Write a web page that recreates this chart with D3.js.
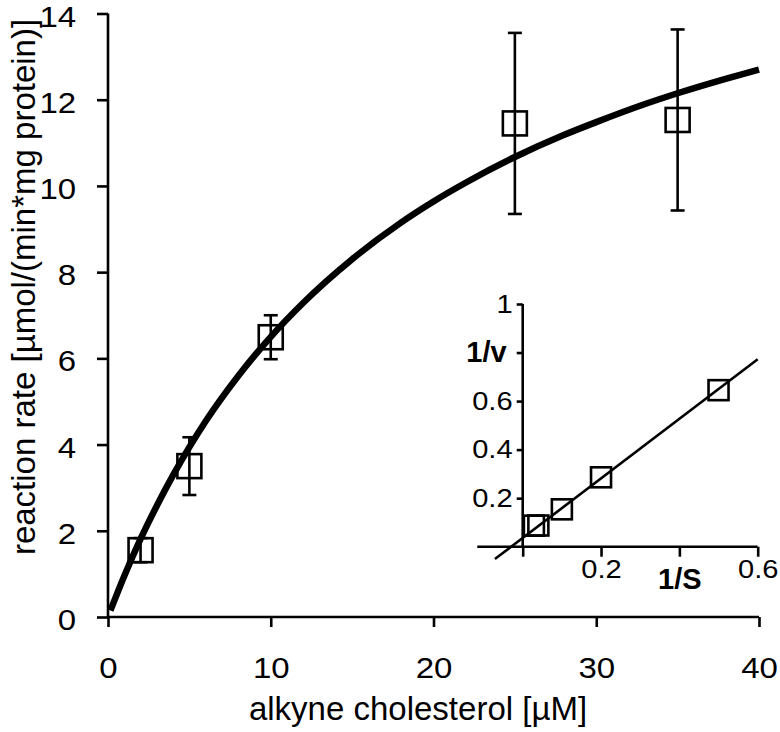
<!DOCTYPE html>
<html>
<head>
<meta charset="utf-8">
<script src="https://cdn.jsdelivr.net/npm/d3@7"></script>
<style>
  html, body { margin: 0; padding: 0; background: #fff; }
  svg { display: block; }
  text { font-family: "Liberation Sans", Arial, sans-serif; fill: #000; }
</style>
</head>
<body>
<svg id="chart" width="780" height="732"></svg>
<script>
// ---- Main chart data ----
const substrate = [2, 5, 10, 25, 35];              // alkyne cholesterol [µM]
const rate      = [1.55, 3.5, 6.49, 11.45, 11.53]; // reaction rate
const rateErr   = [0.28, 0.67, 0.51, 2.1, 2.1];

// fitted Michaelis-Menten curve
const curveS = [0.15, 1, 2, 3, 4, 5, 6, 8, 10, 12, 15, 18, 20, 22, 25, 28, 30, 33, 35, 38, 40];
const curveV = [0.15, 0.95, 1.81, 2.58, 3.29, 3.94, 4.54, 5.59, 6.50, 7.29, 8.30, 9.15, 9.64, 10.08, 10.67, 11.18, 11.48, 11.90, 12.15, 12.49, 12.70];

const xTicks = [0, 10, 20, 30, 40];
const yTicks = [0, 2, 4, 6, 8, 10, 12, 14];

// ---- Inset (Lineweaver-Burk) data ----
const invS = [0.0286, 0.04, 0.1, 0.2, 0.5];
const invV = [0.0867, 0.0873, 0.154, 0.286, 0.645];
const fitLineX = [-0.071, 0.6];
const fitLineY = [-0.051, 0.772];
const insetXTicks = [0, 0.2, 0.4, 0.6];
const insetXLabels = ["", "0.2", "1/S", "0.6"];
const insetYTicks = [0.2, 0.4, 0.6, 0.8, 1];
const insetYLabels = ["0.2", "0.4", "0.6", "1/v", "1"];

const svg = d3.select("#chart");
const FF = '"Liberation Sans", Arial, sans-serif';
const FONT = 30;

// ---- Main scales ----
const x = d3.scaleLinear().domain([0, 40]).range([108, 759]);
const y = d3.scaleLinear().domain([0, 14]).range([617, 13.5]);

// axes
const xAxis = svg.append("g").attr("transform", `translate(0,${y(0)})`)
  .call(d3.axisBottom(x).tickValues(xTicks).tickSize(10).tickPadding(30).tickFormat(d3.format("d")));
const yAxis = svg.append("g").attr("transform", `translate(${x(0)},0)`)
  .call(d3.axisLeft(y).tickValues(yTicks).tickSize(11).tickPadding(18).tickFormat(d3.format("d")));
xAxis.select(".domain").attr("d", `M${x(0)},0H${x(40)}`);
yAxis.select(".domain").attr("d", `M0,${y(0)}V${y(14)}`);
[xAxis, yAxis].forEach(g => {
  g.select(".domain").attr("stroke", "#000").attr("stroke-width", 2.6);
  g.selectAll(".tick line").attr("stroke", "#000").attr("stroke-width", 2.6);
  g.selectAll(".tick text").attr("font-size", FONT).attr("font-family", FF).attr("fill", "#000")
    .attr("transform", "scale(1.1,1)");
});
yAxis.selectAll(".tick text").attr("dy", 12.5);

// axis titles
svg.append("text").attr("x", 418).attr("y", 720).attr("text-anchor", "middle")
  .attr("font-size", 33).text("alkyne cholesterol [µM]");
svg.append("text").attr("transform", `translate(35,287) rotate(-90)`)
  .attr("text-anchor", "middle").attr("font-size", 33)
  .text("reaction rate [µmol/(min*mg protein)]");

// curve
const curveData = curveS.map((s, i) => [s, curveV[i]]);
svg.append("path").datum(curveData)
  .attr("fill", "none").attr("stroke", "#000").attr("stroke-width", 6.5)
  .attr("d", d3.line().x(d => x(d[0])).y(d => y(d[1])).curve(d3.curveMonotoneX));

// error bars
const pts = substrate.map((s, i) => ({ s, v: rate[i], e: rateErr[i] }));
const eb = svg.append("g").attr("stroke", "#000").attr("stroke-width", 2.6).attr("fill", "none");
pts.forEach(p => {
  eb.append("line").attr("x1", x(p.s)).attr("x2", x(p.s)).attr("y1", y(p.v - p.e)).attr("y2", y(p.v + p.e));
  eb.append("line").attr("x1", x(p.s) - 7).attr("x2", x(p.s) + 7).attr("y1", y(p.v - p.e)).attr("y2", y(p.v - p.e));
  eb.append("line").attr("x1", x(p.s) - 7).attr("x2", x(p.s) + 7).attr("y1", y(p.v + p.e)).attr("y2", y(p.v + p.e));
});
// squares
const SQ = 24;
svg.append("g").selectAll("rect").data(pts).join("rect")
  .attr("x", d => x(d.s) - SQ / 2).attr("y", d => y(d.v) - SQ / 2)
  .attr("width", SQ).attr("height", SQ)
  .attr("fill", "none").attr("stroke", "#000").attr("stroke-width", 2.6);

// ---- Inset ----
const ix = d3.scaleLinear().domain([0, 0.6]).range([522.7, 757.7]);
const iy = d3.scaleLinear().domain([0, 1]).range([546.7, 304]);
const IFONT = 26;

const ixAxis = svg.append("g").attr("transform", `translate(0,${iy(0)})`)
  .call(d3.axisBottom(ix).tickValues(insetXTicks).tickSize(10).tickPadding(3)
    .tickFormat((d, i) => insetXLabels[i]));
ixAxis.select(".domain").attr("d", `M${ix(-0.116)},0H${ix(0.6)}`);
const iyAxis = svg.append("g").attr("transform", `translate(${ix(0)},0)`)
  .call(d3.axisLeft(iy).tickValues(insetYTicks).tickSize(6).tickPadding(3)
    .tickFormat((d, i) => insetYLabels[i]));
iyAxis.select(".domain").attr("d", `M0,${iy(0)}V${iy(1)}`);
[ixAxis, iyAxis].forEach(g => {
  g.select(".domain").attr("stroke", "#000").attr("stroke-width", 2.6);
  g.selectAll(".tick line").attr("stroke", "#000").attr("stroke-width", 2.6);
  g.selectAll(".tick text").attr("font-size", IFONT).attr("font-family", FF).attr("fill", "#000")
    .attr("transform", "scale(1.12,1)");
});
ixAxis.selectAll(".tick text").filter((d, i) => insetXLabels[i] === "1/S")
  .attr("font-weight", "bold").attr("font-size", 29).attr("dy", "1.0em").attr("transform", null);
iyAxis.selectAll(".tick text").filter((d, i) => insetYLabels[i] === "1/v")
  .attr("font-weight", "bold").attr("font-size", 29).attr("x", -16).attr("transform", null);

// fit line
svg.append("line")
  .attr("x1", ix(fitLineX[0])).attr("y1", iy(fitLineY[0]))
  .attr("x2", ix(fitLineX[1])).attr("y2", iy(fitLineY[1]))
  .attr("stroke", "#000").attr("stroke-width", 2.6);

// inset squares
const ISQ = 20;
const ipts = invS.map((s, i) => [s, invV[i]]);
svg.append("g").selectAll("rect").data(ipts).join("rect")
  .attr("x", d => ix(d[0]) - ISQ / 2).attr("y", d => iy(d[1]) - ISQ / 2)
  .attr("width", ISQ).attr("height", ISQ)
  .attr("fill", "none").attr("stroke", "#000").attr("stroke-width", 2.6);
</script>
</body>
</html>
